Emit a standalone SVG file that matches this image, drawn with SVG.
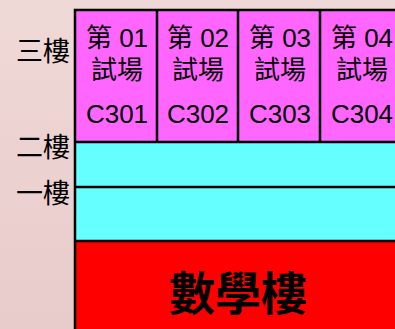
<svg xmlns="http://www.w3.org/2000/svg" width="395" height="329" viewBox="0 0 395 329">
<defs>
<linearGradient id="bg" x1="0" y1="0" x2="0" y2="1">
<stop offset="0" stop-color="#efd9d6"/>
<stop offset="1" stop-color="#e8cbcb"/>
</linearGradient>
<style>
.cjk{font-family:"Liberation Sans","Noto Sans CJK TC",sans-serif;fill:#000}
.room{font-size:26px;text-anchor:middle}
.code{font-size:26px;text-anchor:middle}
.floor{font-size:27px;text-anchor:end}
.ln{stroke:#000;stroke-width:2.5;fill:none}
</style>
</defs>
<rect width="395" height="329" fill="url(#bg)"/>
<g id="floor3">
<rect x="75" y="10" width="330" height="132" fill="#ff66ff"/>
</g>
<g id="floor2"><rect x="75" y="142" width="330" height="45" fill="#66ffff"/></g>
<g id="floor1"><rect x="75" y="187" width="330" height="54" fill="#66ffff"/></g>
<g id="building"><rect x="75" y="241" width="330" height="90" fill="#ff0000"/>
<text class="cjk" x="238" y="310" font-size="46" font-weight="bold" text-anchor="middle">數學樓</text></g>
<g id="connectors">
<path class="ln" d="M75,329 V10 H396 M75,142 H396 M75,187 H396 M75,241 H396 M157,10 V142 M238,10 V142 M320,10 V142"/>
</g>
<g id="room1" class="cjk"><text class="room" x="117" y="47">第 01</text><text class="room" x="117" y="79">試場</text><text class="code" x="117" y="123">C301</text></g>
<g id="room2" class="cjk"><text class="room" x="198" y="47">第 02</text><text class="room" x="198" y="79">試場</text><text class="code" x="198" y="123">C302</text></g>
<g id="room3" class="cjk"><text class="room" x="280" y="47">第 03</text><text class="room" x="280" y="79">試場</text><text class="code" x="280" y="123">C303</text></g>
<g id="room4" class="cjk"><text class="room" x="362" y="47">第 04</text><text class="room" x="362" y="79">試場</text><text class="code" x="362" y="123">C304</text></g>
<g id="labels" class="cjk">
<text class="floor" x="70" y="61">三樓</text>
<text class="floor" x="70" y="157">二樓</text>
<text class="floor" x="70" y="203">一樓</text>
</g>
</svg>
